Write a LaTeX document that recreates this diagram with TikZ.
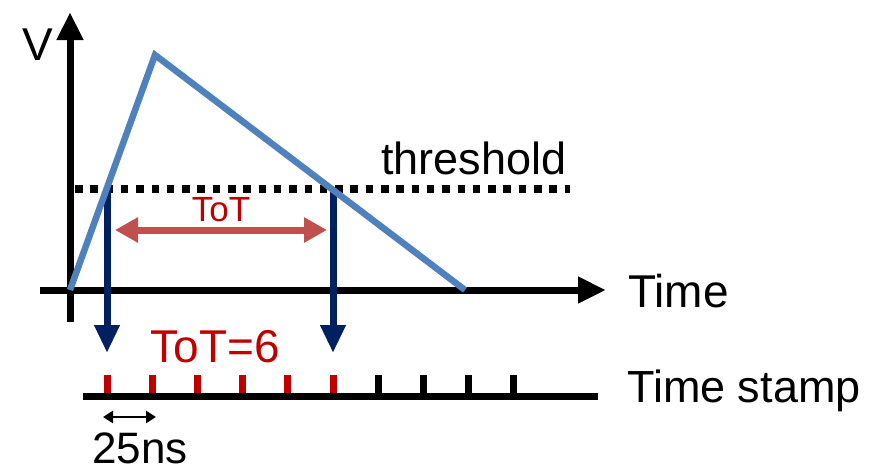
\documentclass[tikz,border=0pt]{standalone}
\usepackage{fontspec}
\setmainfont{Liberation Sans}
\usetikzlibrary{arrows.meta}
\definecolor{pulseblue}{HTML}{4F81BD}
\definecolor{navy}{HTML}{002060}
\definecolor{totarrow}{HTML}{C0504D}
\definecolor{totred}{HTML}{C00000}
\newcommand{\lbl}[1]{\fontsize{#1}{#1}\selectfont}
\begin{document}
\begin{tikzpicture}[x=1pt,y=-1pt,
  axis/.style={line width=7pt,-{Triangle[length=28pt,width=25pt]}},
  pulse/.style={pulseblue,line width=6.5pt,line join=miter},
  thr/.style={line width=7.5pt,dash pattern=on 7.5pt off 7.8pt},
  marker/.style={navy,line width=7pt,-{Triangle[length=28pt,width=24pt]}},
  totspan/.style={totarrow,line width=7pt,{Triangle[length=23pt,width=24pt]}-{Triangle[length=23pt,width=24pt]}},
  tick/.style={line width=7pt},
  lab/.style={inner sep=0pt,text=black}]
\useasboundingbox (0,0) rectangle (879,472);
% axes
\coordinate (t0) at (40,290);
\coordinate (t1) at (606,290);
\coordinate (v0) at (70,322);
\coordinate (v1) at (70,12);
\draw[axis] (t0) -- (t1);
\draw[axis] (v0) -- (v1);
\node[lab,font=\lbl{46}] (vlab) at (38,45) {V};
\node[lab,font=\lbl{46},anchor=west] (timelab) at (628,291) {Time};
% threshold level
\coordinate (h0) at (75,189);
\coordinate (h1) at (570,189);
\draw[thr] (h0) -- (h1);
\node[lab,font=\lbl{45}] (thrlab) at (474,158) {threshold};
% crossing markers dropping to the time stamp line
\coordinate (c1) at (107,188);
\coordinate (c2) at (333,188);
\coordinate (d1) at (107,353);
\coordinate (d2) at (333,353);
\draw[marker] (c1) -- (d1);
\draw[marker] (c2) -- (d2);
% ToT span
\coordinate (s0) at (115,230);
\coordinate (s1) at (327,230);
\draw[totspan] (s0) -- (s1);
\node[lab,font=\lbl{35},text=totred] (totlab) at (221,210) {ToT};
% pulse shape
\coordinate (p0) at (70,290);
\coordinate (p1) at (155,55);
\coordinate (p2) at (465,290);
\draw[pulse] (p0) -- (p1) -- (p2);
% time stamp line with clock ticks
\coordinate (ts0) at (83,396);
\coordinate (ts1) at (598,396);
\draw[line width=7pt] (ts0) -- (ts1);
\foreach \i in {0,...,5}
  \draw[tick,totred] (107+45.2*\i,375) -- (107+45.2*\i,393);
\foreach \i in {6,...,9}
  \draw[tick] (107+45.2*\i,375) -- (107+45.2*\i,393);
\node[lab,font=\lbl{45},anchor=west] (stamplab) at (627,391) {Time stamp};
\node[lab,font=\lbl{46},text=totred] (totval) at (215,347) {ToT=6};
% clock period
\coordinate (q0) at (103,417);
\coordinate (q1) at (156,417);
\draw[line width=2.5pt,{Triangle[length=10pt,width=12pt]}-{Triangle[length=10pt,width=12pt]}] (q0) -- (q1);
\node[lab,font=\lbl{44}] (period) at (140,448) {25ns};
\end{tikzpicture}
\end{document}
